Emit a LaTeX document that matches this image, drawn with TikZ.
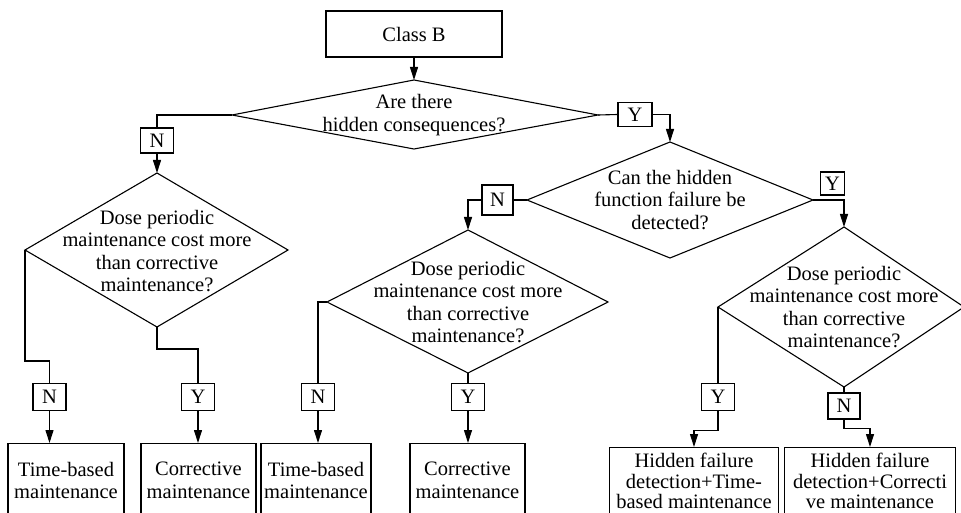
\documentclass[tikz,border=0pt]{standalone}
\usepackage{fontspec}
\setmainfont{Liberation Serif}
\usetikzlibrary{arrows.meta}
\begin{document}
\begin{tikzpicture}[x=1pt,y=-1pt,
  every node/.style={font=\fontsize{20.5}{22.5}\selectfont, inner sep=0pt},
  box/.style={draw, line width=1.1pt, align=center, inner sep=0pt},
  yn/.style={draw, line width=1.1pt, minimum width=33pt, minimum height=27pt},
  dia/.style={draw, line width=1.1pt},
  con/.style={line width=1.1pt},
  arr/.style={con, -{Triangle[length=13pt,width=8pt]}},
  txt/.style={align=center}]
\useasboundingbox (0,0) rectangle (961,513);
\fill[white] (0,0) rectangle (961,513);
\clip (0,0) rectangle (961,513);

% top box
\node[box, minimum width=176pt, minimum height=46pt] (classb) at (414,34) {Class B};

% diamond 1
\coordinate (d1t) at (414,80);
\coordinate (d1l) at (232,115);
\coordinate (d1r) at (598,115);
\coordinate (d1b) at (414,149);
\draw[dia] (d1t) -- (d1r) -- (d1b) -- (d1l) -- cycle;
\node[txt] (q1) at (414,115) {Are there\\hidden consequences?};

% diamond 2
\coordinate (d2t) at (157,173);
\coordinate (d2l) at (25,250);
\coordinate (d2r) at (288,250);
\coordinate (d2b) at (157,327);
\draw[dia] (d2t) -- (d2r) -- (d2b) -- (d2l) -- cycle;
\node[txt] (q2) at (157,251) {Dose periodic\\maintenance cost more\\than corrective\\maintenance?};

% diamond 3
\coordinate (d3t) at (670,142);
\coordinate (d3l) at (527,200);
\coordinate (d3r) at (813,200);
\coordinate (d3b) at (670,258);
\draw[dia] (d3t) -- (d3r) -- (d3b) -- (d3l) -- cycle;
\node[txt] (q3) at (670,200) {Can the hidden\\function failure be\\detected?};

% diamond 4
\coordinate (d4t) at (468,230);
\coordinate (d4l) at (327,302);
\coordinate (d4r) at (608,302);
\coordinate (d4b) at (468,373);
\draw[dia] (d4t) -- (d4r) -- (d4b) -- (d4l) -- cycle;
\node[txt] (q4) at (468,302) {Dose periodic\\maintenance cost more\\than corrective\\maintenance?};

% diamond 5
\coordinate (d5t) at (844,227);
\coordinate (d5l) at (718,307);
\coordinate (d5r) at (964,307);
\coordinate (d5b) at (844,387);
\draw[dia] (d5t) -- (d5r) -- (d5b) -- (d5l) -- cycle;
\node[txt] (q5) at (844,307) {Dose periodic\\maintenance cost more\\than corrective\\maintenance?};

% Y/N labels
\node[yn, minimum height=25pt] (n1) at (157,140.5) {N};
\node[yn, minimum width=34pt, minimum height=24pt] (y1) at (635,114.5) {Y};
\node[yn, minimum width=31pt, minimum height=30pt] (n2) at (497.5,200) {N};
\node[yn, minimum width=24pt, minimum height=23pt] (y2) at (832.5,183.5) {Y};
\node[yn] (n3) at (49.5,397) {N};
\node[yn] (y3) at (198,397) {Y};
\node[yn] (n4) at (318,397) {N};
\node[yn] (y4) at (468,397) {Y};
\node[yn] (y5) at (718,397) {Y};
\node[yn, minimum width=32pt, minimum height=26pt] (n5) at (844,406) {N};

% result boxes
\node[box, minimum width=116pt, minimum height=74pt, anchor=north] (tb1) at (66,443) {Time-based\\maintenance};
\node[box, minimum width=115pt, minimum height=74pt, anchor=north] (cm1) at (198.5,443) {Corrective\\maintenance};
\node[box, minimum width=110pt, minimum height=74pt, anchor=north] (tb2) at (316,443) {Time-based\\maintenance};
\node[box, minimum width=115pt, minimum height=74pt, anchor=north] (cm2) at (467.5,443) {Corrective\\maintenance};
\node[box, font=\fontsize{20.5}{20.5}\selectfont, minimum width=169pt, minimum height=67pt, anchor=north] (hf1) at (694,447) {Hidden failure\\detection+Time-\\based maintenance};
\node[box, font=\fontsize{20.5}{20.5}\selectfont, minimum width=171pt, minimum height=67pt, anchor=north] (hf2) at (870,447) {Hidden failure\\detection+Correcti\\ve maintenance};

% connectors
\draw[arr] (classb.south) -- (d1t);
\draw[con] (d1l) -| (n1.north);
\draw[arr] (n1.south) -- (d2t);
\draw[con] (d1r) -- (y1.west);
\draw[arr] (y1.east) -| (d3t);
\draw[con] (d3l) -- (n2.east);
\draw[arr] (n2.west) -| (d4t);
\draw[arr] (d3r) -| (d5t);

\draw[con] (d2l) -- (25,361) -| (n3.north);
\draw[arr] (n3.south) -- (n3.south |- tb1.north);
\draw[con] (d2b) -- (157,349) -| (y3.north);
\draw[arr] (y3.south) -- (y3.south |- cm1.north);

\draw[con] (d4l) -| (n4.north);
\draw[arr] (n4.south) -- (n4.south |- tb2.north);
\draw[con] (d4b) -- (y4.north);
\draw[arr] (y4.south) -- (y4.south |- cm2.north);

\draw[con] (d5l) -- (y5.north);
\draw[arr] (y5.south) -- ++(0,19) -| (hf1.north);
\draw[con] (d5b) -- (n5.north);
\draw[arr] (n5.south) -- ++(0,9) -| (hf2.north);
\end{tikzpicture}
\end{document}
